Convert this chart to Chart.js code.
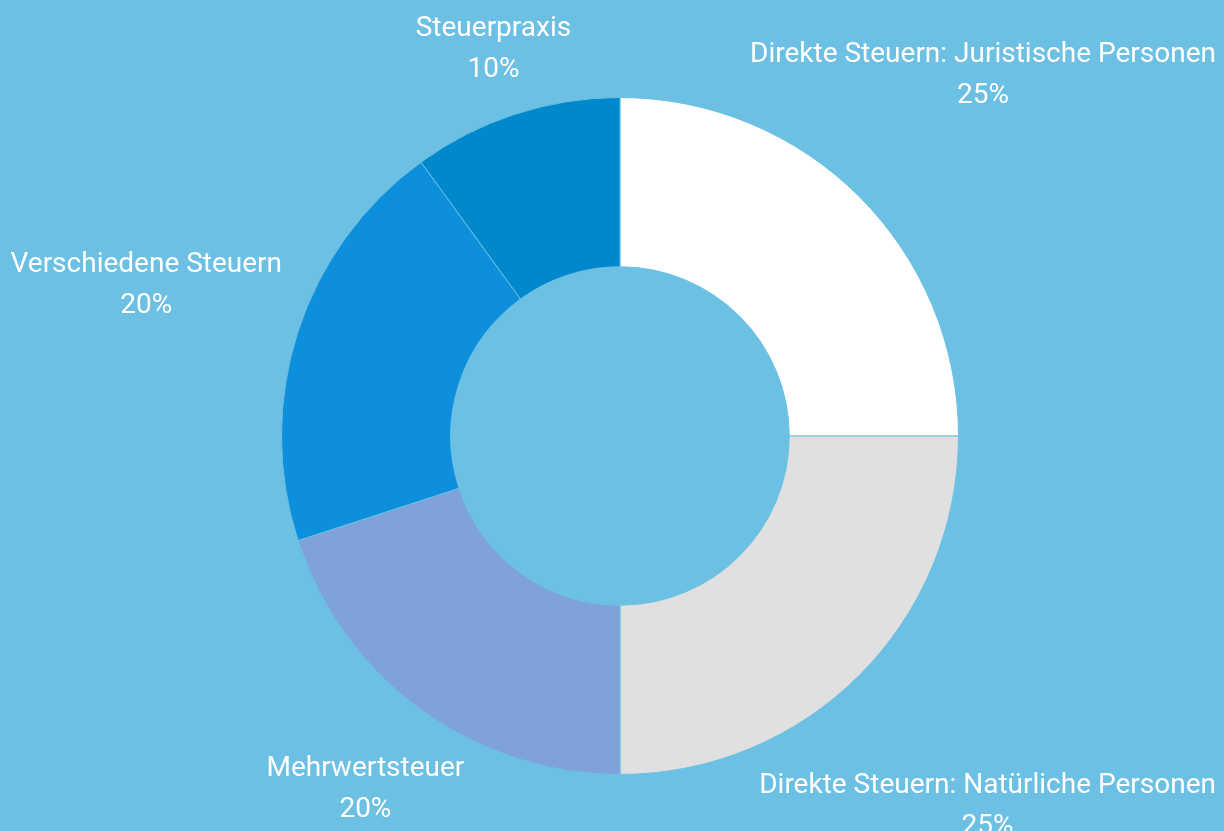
<!DOCTYPE html>
<html>
<head>
<meta charset="utf-8">
<script src="https://cdn.jsdelivr.net/npm/chart.js@4"></script>
<style>
  html, body { margin: 0; padding: 0; background: #6cc0e3; }
  #wrap { width: 1224px; height: 831px; position: relative; }
</style>
</head>
<body>
<div id="wrap"><canvas id="taxDonut"></canvas></div>
<script>
const labels = [
  "Direkte Steuern: Juristische Personen",
  "Direkte Steuern: Natürliche Personen",
  "Mehrwertsteuer",
  "Verschiedene Steuern",
  "Steuerpraxis"
];
const shares = [25, 25, 20, 20, 10];
const colors = ["#ffffff", "#e0e0e0", "#7fa2da", "#0d8fdb", "#0088cc"];

const bg = "#6cc0e3";
const fontSize = 28;
const lineGap = 41;

// outside labels, pushed out along the slice's mid angle
const outsideLabels = {
  id: "outsideLabels",
  afterDatasetsDraw(chart) {
    const ctx = chart.ctx;
    const meta = chart.getDatasetMeta(0);
    const W = chart.width;
    ctx.save();
    ctx.font = fontSize + "px Roboto";
    ctx.fillStyle = "#ffffff";
    ctx.textAlign = "center";
    ctx.textBaseline = "middle";
    meta.data.forEach((arc, i) => {
      const p = arc.getProps(["x", "y", "startAngle", "endAngle", "outerRadius"], true);
      const mid = (p.startAngle + p.endAngle) / 2;
      const vx = Math.cos(mid), vy = Math.sin(mid);
      const line2 = shares[i] + "%";
      const w = Math.max(ctx.measureText(labels[i]).width, ctx.measureText(line2).width);
      const hw = w / 2, hh = 35;
      let d = p.outerRadius + 30 + Math.sqrt((hw * vx) ** 2 + (hh * vy) ** 2);
      let cx = p.x + vx * d;
      // keep inside the canvas horizontally, sliding back along the ray
      if (cx + hw > W - 8) d -= (cx + hw - (W - 8)) / Math.abs(vx);
      if (cx - hw < 6) d -= (6 - (cx - hw)) / Math.abs(vx);
      cx = p.x + vx * d;
      const cy = p.y + vy * d + 3;
      ctx.fillText(labels[i], cx, cy - lineGap / 2);
      ctx.fillText(line2, cx, cy + lineGap / 2);
    });
    ctx.restore();
  }
};

new Chart(document.getElementById("taxDonut"), {
  type: "doughnut",
  data: {
    labels: labels,
    datasets: [{
      data: shares,
      backgroundColor: colors,
      borderColor: bg,
      borderWidth: 1
    }]
  },
  options: {
    responsive: true,
    maintainAspectRatio: false,
    animation: false,
    cutout: "50%",
    layout: { padding: { top: 97, bottom: 56, left: 281, right: 265 } },
    plugins: {
      legend: { display: false },
      tooltip: { enabled: false }
    }
  },
  plugins: [outsideLabels]
});
</script>
</body>
</html>
